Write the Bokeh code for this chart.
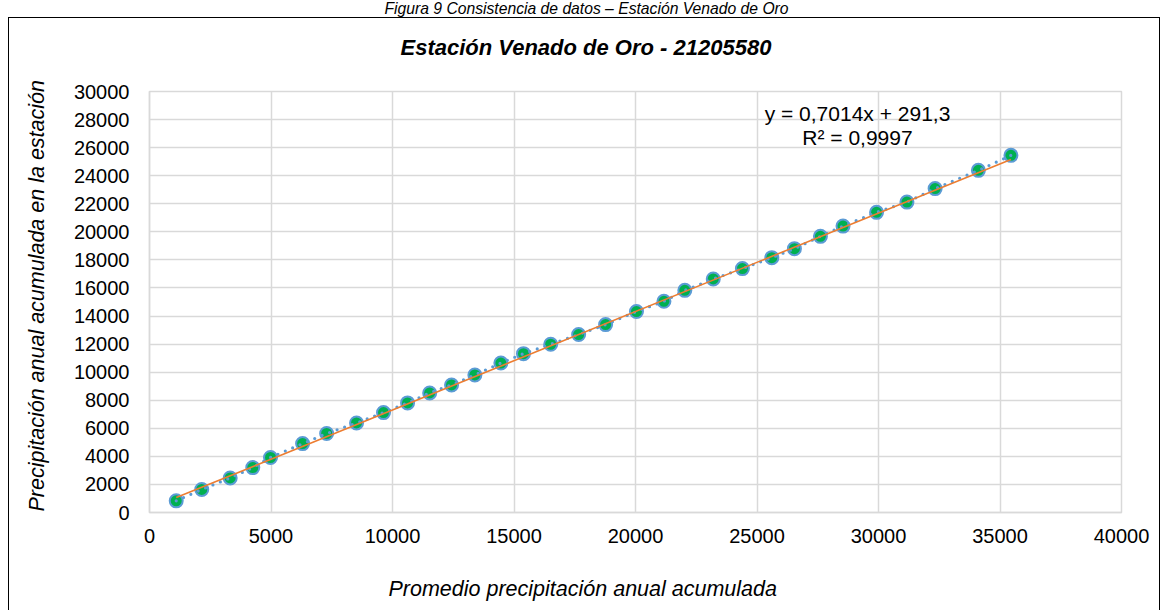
from bokeh.plotting import figure
from bokeh.models import (Range1d, Label, FixedTicker, ColumnDataSource, BasicTickFormatter,
                          Title, InlineStyleSheet)
from bokeh.embed import file_html
from bokeh.resources import INLINE

# Promedio de precipitación anual acumulada (x) vs. acumulada en la estación (y)
promedio_acum = [1100, 2150, 3320, 4250, 4980, 6300, 7290, 8520, 9630, 10620,
                 11530, 12430, 13390, 14460, 15390, 16510, 17660, 18770, 20040, 21170,
                 22030, 23200, 24400, 25610, 26540, 27610, 28540, 29920, 31170, 32330,
                 34110, 35450]
estacion_acum = [830, 1640, 2460, 3200, 3920, 4910, 5630, 6380, 7120, 7810,
                 8520, 9090, 9800, 10650, 11320, 11990, 12680, 13390, 14320, 15050,
                 15830, 16640, 17380, 18160, 18800, 19680, 20410, 21390, 22120, 23080,
                 24380, 25450]

# Linear trend reported on the chart
pendiente = 0.7014
intercepto = 291.3
r2 = 0.9997

x_ticks = list(range(0, 40001, 5000))
y_ticks = list(range(0, 30001, 2000))

FONT = "Liberation Sans"

src = ColumnDataSource(dict(x=promedio_acum, y=estacion_acum))
x_tr = [min(promedio_acum), max(promedio_acum)]
tr = ColumnDataSource(dict(x=x_tr, y=[pendiente * v + intercepto for v in x_tr]))

p = figure(width=1168, height=610, x_range=Range1d(0, 40000), y_range=Range1d(0, 30000),
           output_backend="svg", toolbar_location=None, title=None,
           min_border_left=148, min_border_right=47, min_border_top=91, min_border_bottom=98)
p.background_fill_color = "white"
p.border_fill_color = "white"
p.outline_line_color = "#D9D9D9"
p.outline_line_width = 1.5

p.xaxis.ticker = FixedTicker(ticks=x_ticks)
p.yaxis.ticker = FixedTicker(ticks=y_ticks)
for ax in (p.xaxis[0], p.yaxis[0]):
    ax.formatter = BasicTickFormatter(use_scientific=False)
    ax.major_tick_line_color = None
    ax.minor_tick_line_color = None
    ax.major_tick_out = 0
    ax.major_tick_in = 0
    ax.minor_tick_out = 0
    ax.axis_line_color = "#D9D9D9"
    ax.axis_line_width = 1.5
    ax.major_label_text_font = FONT
    ax.major_label_text_font_size = "20px"
    ax.major_label_text_color = "#000000"
p.xaxis.major_label_standoff = 16
p.yaxis.major_label_standoff = 20

p.xgrid.ticker = FixedTicker(ticks=x_ticks)
p.ygrid.ticker = FixedTicker(ticks=y_ticks)
for g in (p.xgrid[0], p.ygrid[0]):
    g.grid_line_color = "#D9D9D9"
    g.grid_line_width = 1.5

# markers, then the dotted series line and the trend line on top
p.scatter("x", "y", source=src, size=13, fill_color="#00B050", line_color="#5B9BD5", line_width=2)
p.line("x", "y", source=src, line_color="#5B9BD5", line_width=3.2, line_dash="0 8", line_cap="round")
p.line("x", "y", source=tr, line_color="#ED7D31", line_width=1.6)

# trend equation
FL, FB = 148, 512  # frame left / bottom on the canvas
for cy, txt in ((113, f"y = {pendiente:.4f}x + {intercepto:.1f}".replace(".", ",")),
                (137, f"R² = {r2:.4f}".replace(".", ","))):
    p.add_layout(Label(x=856 - FL, y=FB - cy, x_units="screen", y_units="screen", text=txt,
                       text_font=FONT, text_font_size="21px", text_align="center",
                       text_baseline="middle", text_color="#000000"))


def titulo(text, side, offset, size, style, standoff, valign="bottom"):
    p.add_layout(Title(text=text, align="left", offset=offset, vertical_align=valign,
                       text_font=FONT, text_font_size=size, text_font_style=style,
                       text_color="#000000", standoff=standoff), side)


# chart title and the figure caption above it (caption sits at the top edge of the page)
titulo("Estación Venado de Oro - 21205580", "above", 251, "22px", "bold italic", 64)
titulo("Figura 9 Consistencia de datos – Estación Venado de Oro", "above", 235, "15.7px", "italic", -33)
# axis titles
titulo("\nPromedio precipitación anual acumulada", "below", 239, "21.5px", "italic", 14, valign="top")
titulo("Precipitación anual acumulada en la estación", "left", 1, "21.5px", "italic", 44)

# outer chart frame
p.stylesheets = [InlineStyleSheet(css="""
:host { position: relative; }
:host::after { content: ""; position: absolute; left: 8px; top: 17px; width: 1152px; height: 640px;
  border: 1.5px solid #000; box-sizing: border-box; pointer-events: none; }
""")]

open("out.html", "w").write(file_html(p, INLINE))
